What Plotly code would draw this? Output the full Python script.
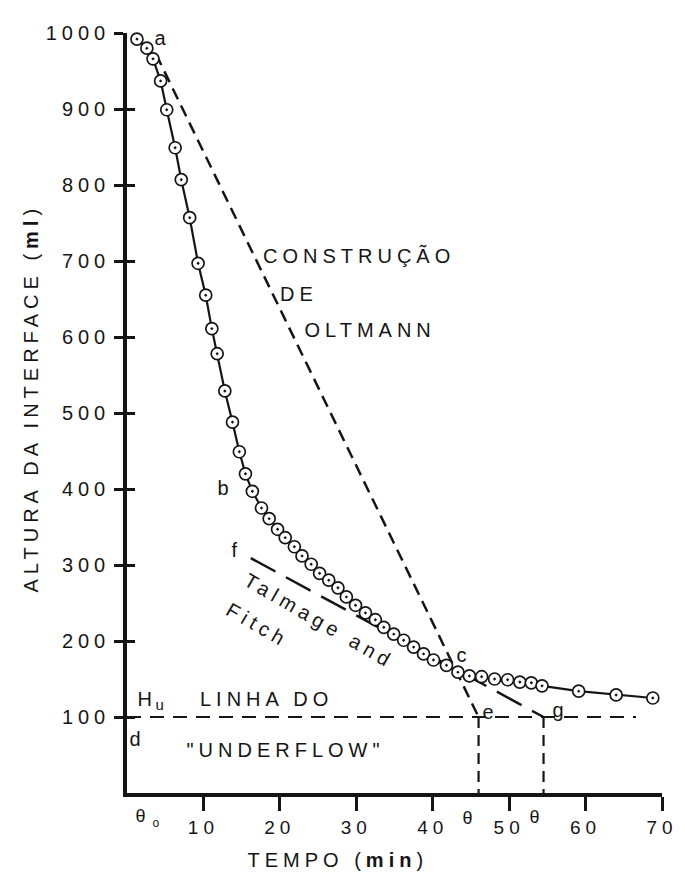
import plotly.graph_objects as go

# measured settling curve (time in min, interface height in ml)
tempo = [1.3, 2.6, 3.4, 4.4, 5.2, 6.3, 7.1, 8.2, 9.3, 10.3, 11.1, 11.8, 12.8, 13.8, 14.7, 15.5,
         16.4, 17.6, 18.6, 19.7, 20.7, 21.9, 22.9, 24.1, 25.2, 26.4, 27.6, 28.7, 29.9, 31.2,
         32.5, 33.6, 34.9, 36.2, 37.5, 38.8, 40.1, 41.8, 43.3, 44.8, 46.4, 48.1, 49.8, 51.4,
         52.9, 54.3, 59.1, 64.0, 68.8]
altura = [992, 980, 966, 937, 899, 849, 807, 757, 697, 655, 611, 578, 529, 488, 449, 420,
          397, 375, 361, 347, 336, 324, 312, 301, 289, 280, 270, 258, 247, 237,
          228, 218, 209, 201, 192, 183, 175, 168, 159, 154, 153, 150, 149, 146,
          145, 141, 134, 129, 125]

# construction lines
oltmann_x = [3.8, 46.0]
oltmann_y = [972, 100]
talmage_x = [16.2, 54.5]
talmage_y = [309, 100]
underflow_x = [0, 66.6]
underflow_y = [100, 100]
theta_e_x = [46.0, 46.0]
theta_g_x = [54.5, 54.5]
vert_y = [100, 0]

xtick_vals = [10, 20, 30, 40, 50, 60, 70]
xtick_text = ["10", "20", "30", "40", "50", "60", "70"]
ytick_vals = [100, 200, 300, 400, 500, 600, 700, 800, 900, 1000]
ytick_text = ["100", "200", "300", "400", "500", "600", "700", "800", "900", "1000"]

INK = "#151515"
FONT = "Liberation Sans"

fig = go.Figure()

fig.add_trace(go.Scatter(x=oltmann_x, y=oltmann_y, mode="lines",
                         line=dict(color=INK, width=2.5, dash="12px,7px"), hoverinfo="skip"))
fig.add_trace(go.Scatter(x=talmage_x, y=talmage_y, mode="lines",
                         line=dict(color=INK, width=2.5, dash="28px,12px"), hoverinfo="skip"))
fig.add_trace(go.Scatter(x=underflow_x, y=underflow_y, mode="lines",
                         line=dict(color=INK, width=2.2, dash="14px,9px"), hoverinfo="skip"))
fig.add_trace(go.Scatter(x=theta_e_x, y=vert_y, mode="lines",
                         line=dict(color=INK, width=2.2, dash="11px,7px"), hoverinfo="skip"))
fig.add_trace(go.Scatter(x=theta_g_x, y=vert_y, mode="lines",
                         line=dict(color=INK, width=2.2, dash="11px,7px"), hoverinfo="skip"))
fig.add_trace(go.Scatter(x=tempo, y=altura, mode="lines+markers", cliponaxis=False,
                         line=dict(color=INK, width=2.2),
                         marker=dict(symbol="circle-dot", size=12, color="white",
                                     line=dict(color=INK, width=1.7))))
# helper trace for the inner half of the y ticks
fig.add_trace(go.Scatter(x=[None], y=[None], yaxis="y2", showlegend=False))

fig.update_layout(
    width=685, height=882,
    margin=dict(l=127, r=17, t=33, b=89),
    paper_bgcolor="white", plot_bgcolor="white",
    showlegend=False,
    font=dict(family=FONT, size=20, color=INK),
    xaxis=dict(range=[0, 70], showgrid=False, zeroline=False,
               showline=True, linewidth=3.5, linecolor=INK,
               ticks="outside", ticklen=14, tickwidth=2.5, tickcolor=INK,
               tickvals=xtick_vals, ticktext=xtick_text,
               tickfont=dict(family=FONT, size=19, color=INK)),
    yaxis=dict(range=[0, 1000], showgrid=False, zeroline=False,
               showline=True, linewidth=3.5, linecolor=INK,
               ticks="outside", ticklen=9, tickwidth=2.5, tickcolor=INK,
               tickvals=ytick_vals, ticktext=ytick_text,
               tickfont=dict(family=FONT, size=20, color=INK)),
    yaxis2=dict(range=[0, 1000], overlaying="y", anchor="x", side="left",
                showgrid=False, zeroline=False, showline=False,
                ticks="inside", ticklen=8, tickwidth=2.5, tickcolor=INK,
                tickvals=ytick_vals, showticklabels=False),
)

def lab(x, y, text, size=20, angle=0, xref="x", yref="y"):
    fig.add_annotation(x=x, y=y, xref=xref, yref=yref, text=text, showarrow=False,
                       textangle=angle, align="center", xanchor="center", yanchor="middle",
                       font=dict(family=FONT, size=size, color=INK))

lab(4.7, 993, "a")
lab(12.9, 401, "b")
lab(44.1, 182, "c")
lab(1.4, 71, "d")
lab(47.5, 107, "e")
lab(14.4, 320, "f")
lab(56.7, 109, "g")
# H with subscript u
lab(2.6, 124, "H")
lab(4.6, 116, "u", size=15)
lab(18.2, 124, "LINHA DO")
lab(20.8, 57, "\"UNDERFLOW\"")
lab(30.3, 707, "CONSTRUÇÃO")
lab(22.5, 657, "DE")
lab(31.8, 609, "OLTMANN")
lab(25.2, 226, "Talmage and", angle=30)
lab(17.1, 221, "Fitch", angle=30)
# theta marks just below the time axis (y in paper units so they are drawn outside the range)
lab(2.1, -0.03, "θ", size=18, yref="paper")
lab(4.1, -0.04, "o", size=12, yref="paper")
lab(44.9, -0.033, "θ", size=18, yref="paper")
lab(53.6, -0.032, "θ", size=18, yref="paper")
lab(0.394, -0.088, "TEMPO (<b>min</b>)", xref="paper", yref="paper")
lab(-0.18, 0.52, "ALTURA DA INTERFACE (<b>ml</b>)", angle=-90, xref="paper", yref="paper")

post = ("var s=document.createElement('style');"
        "s.innerHTML='.main-svg text{letter-spacing:5px}';"
        "document.head.appendChild(s);")
fig.write_html("out.html", post_script=post)
